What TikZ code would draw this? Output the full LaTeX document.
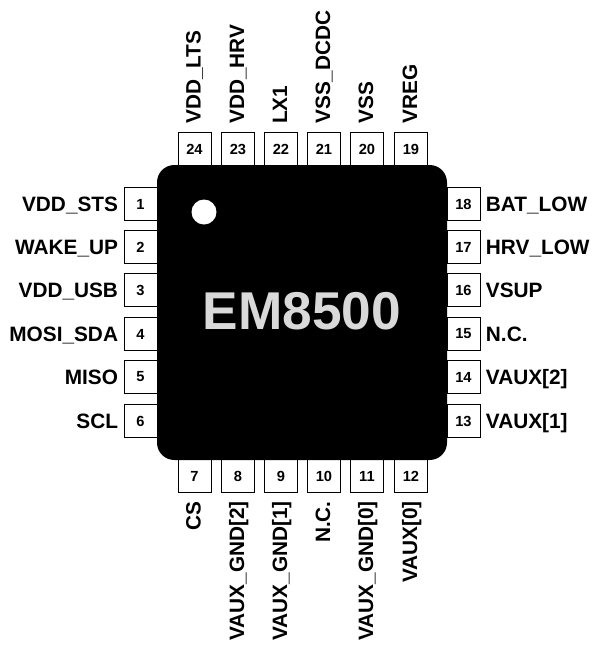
\documentclass[tikz,border=0pt]{standalone}
\usepackage{fontspec}
\setmainfont{Liberation Sans}
\usetikzlibrary{positioning}

\tikzset{
  pinbox/.style={draw=black, line width=0.75pt, fill=white, minimum size=24.75pt,
    inner sep=0pt, font=\fontsize{11}{12}\selectfont\bfseries},
  pinname/.style={inner sep=0pt, text height=11.2pt, text depth=0pt,
    font=\fontsize{15.6}{18}\selectfont\bfseries},
}

\begin{document}
\begin{tikzpicture}[x=0.75pt,y=-0.75pt]

  \useasboundingbox (0,0) rectangle (599,651);

  % Left side
  \foreach \n/\y/\lab in {1/204/VDD\_STS,2/247/WAKE\_UP,3/290/VDD\_USB,4/334/MOSI\_SDA,5/377/MISO,6/421/SCL}{
    \node[pinbox] (pin\n) at (140.5,\y) {\n};
    \node[pinname, left=3.9pt of pin\n] (name\n) {\lab};
  }

  % Right side
  \foreach \n/\y/\lab in {18/204/BAT\_LOW,17/247/HRV\_LOW,16/290/VSUP,15/334/N.C.,14/377/VAUX[2],13/421/VAUX[1]}{
    \node[pinbox] (pin\n) at (463.5,\y) {\n};
    \node[pinname, right=3.9pt of pin\n] (name\n) {\lab};
  }

  % Top side
  \foreach \n/\x/\lab in {24/194.5/VDD\_LTS,23/238/VDD\_HRV,22/281/LX1,21/324/VSS\_DCDC,20/367/VSS,19/411/VREG}{
    \node[pinbox] (pin\n) at (\x,149) {\n};
    \node[pinname, xshift=-1.1pt, rotate=90, above=6pt of pin\n.north, anchor=west] (name\n) {\lab};
  }

  % Bottom side
  \foreach \n/\x/\lab in {7/194.5/CS,8/238/VAUX\_GND[2],9/281/VAUX\_GND[1],10/324/N.C.,11/367/VAUX\_GND[0],12/411/VAUX[0]}{
    \node[pinbox] (pin\n) at (\x,476) {\n};
    \node[pinname, xshift=-1.1pt, rotate=90, below=6pt of pin\n.south, anchor=east] (name\n) {\lab};
  }

  % Package
  \node[fill=black, rounded corners=13pt, minimum width=217.5pt, minimum height=221.25pt,
    inner sep=0pt] (chip) at (302,312.5) {};
  \node[fill=white, circle, minimum size=18.75pt, inner sep=0pt] (dot) at (204,212) {};
  \node[text=black!15, font=\fontsize{39.9}{44}\selectfont\bfseries, inner sep=0pt] (partname) at (302,311) {EM8500};

\end{tikzpicture}
\end{document}
